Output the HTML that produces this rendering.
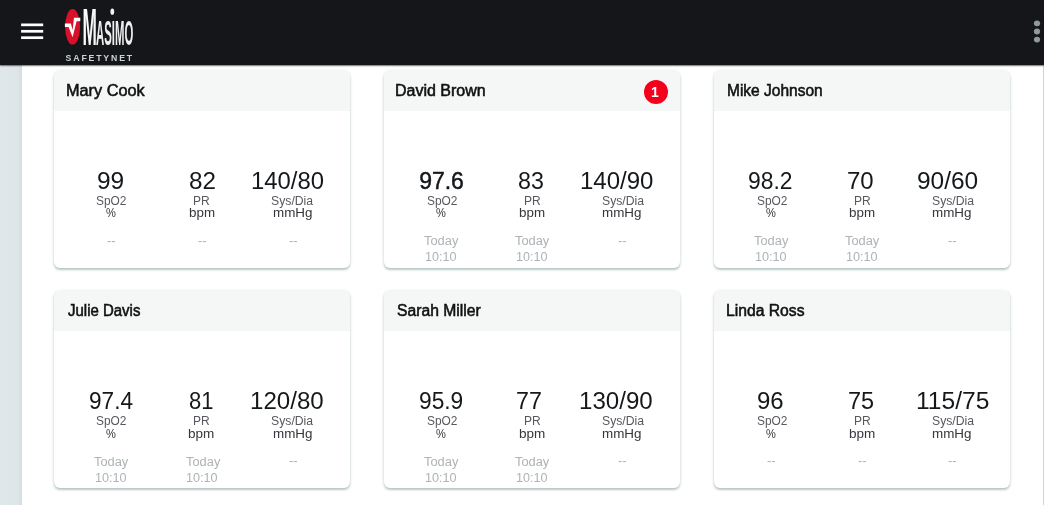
<!DOCTYPE html><html><head><meta charset="utf-8"><title>Masimo SafetyNet</title><style>
*{box-sizing:border-box;margin:0;padding:0}
html,body{width:1044px;height:505px;overflow:hidden;background:#fff;font-family:"Liberation Sans",sans-serif;}
#hdr{position:absolute;left:0;top:0;width:1044px;height:65px;background:#15161a;box-shadow:0 1px 1.2px rgba(0,0,0,.55);z-index:5}
#side{position:absolute;left:0;top:65px;width:21.6px;height:440px;background:linear-gradient(90deg,#e0e7ea 0%,#dee5e8 82%,#d3dcdf 100%)}
#redge{position:absolute;left:1042.8px;top:65px;width:1.2px;height:440px;background:#cbd6d4}
.bar{position:absolute;left:21px;width:22px;height:2.8px;background:#fff;border-radius:.5px}
.dot{position:absolute;left:1034px;width:6px;height:6px;border-radius:50%;background:#8e9b9c}
.card{position:absolute;width:296px;height:197px;background:#fff;border-radius:6px;box-shadow:0 1.2px 2.2px rgba(100,130,130,.42),0 0 3px rgba(110,140,140,.17)}
.ch{position:absolute;left:0;top:0;width:100%;height:40px;background:#f5f7f7;border-radius:6px 6px 0 0}
.badge{position:absolute;left:259.8px;top:9px;width:24px;height:24px;border-radius:50%;background:#f4001c;color:#fff;font-weight:bold;font-size:14px;line-height:24.4px;text-align:center;padding-right:2px}
.tx{position:absolute;display:block;white-space:nowrap;transform-origin:0 0;line-height:1}
.nm{font-size:15.6px;color:#111;-webkit-text-stroke:.55px #111}
.v{font-size:23px;color:#14181a}
.v.b{-webkit-text-stroke:.45px #14181a}
.l{font-size:12px;color:#57575e}
.u{font-size:12px;color:#36363c}
.t{font-size:12px;color:#adb3b6}
.d{font-size:12px;color:#adb3b6}
</style></head><body>
<div id="side"></div><div id="redge"></div>
<div id="hdr">
<svg style="position:absolute;left:0;top:0" width="60" height="65" viewBox="0 0 60 65"><rect x="21.1" y="23.5" width="22.1" height="2.7" fill="#fff"/><rect x="21.1" y="29.95" width="22.1" height="2.7" fill="#fff"/><rect x="21.1" y="36.35" width="22.1" height="2.7" fill="#fff"/></svg>
<svg style="position:absolute;left:1024px;top:0" width="20" height="65" viewBox="1024 0 20 65"><ellipse cx="1037" cy="23.3" rx="3.1" ry="2.9" fill="#8e9b9c"/><ellipse cx="1037" cy="31.5" rx="3.1" ry="2.9" fill="#8e9b9c"/><ellipse cx="1037" cy="39.6" rx="3.1" ry="2.9" fill="#8e9b9c"/></svg>
<svg id="logo" style="position:absolute;left:60px;top:0" width="90" height="65" viewBox="60 0 90 65">
<defs><linearGradient id="mg" x1="0" x2="1" y1="0" y2="0"><stop offset="0" stop-color="#fff"/><stop offset=".55" stop-color="#e4e6e6"/><stop offset="1" stop-color="#f6f7f7"/></linearGradient></defs>
<ellipse cx="72.6" cy="26.8" rx="7.5" ry="17.8" fill="#d8102a"/>
<path d="M64.9 23.6 L70.9 23.6 L72.6 30 L74 17.8 L80.3 17.8 L80.3 21.2 L76.6 21.2 L72.6 37.2 L68.6 27 L64.9 27 Z" fill="#fff"/>
<text x="82.4" y="44.5" font-family="Liberation Sans, sans-serif" font-weight="bold" fill="#eef0f0"><tspan font-size="52.2" textLength="14.4" lengthAdjust="spacingAndGlyphs" fill="url(#mg)">M</tspan><tspan x="96.1" font-size="35.4" textLength="37.2" lengthAdjust="spacingAndGlyphs">ASIMO</tspan></text>
<ellipse cx="112.3" cy="11.7" rx="1.9" ry="3.1" fill="#f2f3f3"/>
<text transform="translate(65.6 60.5) scale(.88 1)" font-family="Liberation Sans, sans-serif" font-weight="bold" font-size="9.9" textLength="75.6" lengthAdjust="spacing" fill="#ccd3d4">SAFETYNET</text>
</svg>

</div>
<div class="card" style="left:54px;top:71px"><div class="ch"></div>
<span class="tx nm" id="n0" style="left:11.87px;top:12.19px;transform:scaleX(1.0435)">Mary Cook</span>
<span class="tx v" id="v00" style="left:43.26px;top:98.88px;transform:scaleX(1.0639)">99</span>
<span class="tx l" id="l00" style="left:41.97px;top:123.74px;transform:scaleX(0.9916)">SpO2</span>
<span class="tx u" id="u00" style="left:52.15px;top:135.94px;transform:scaleX(0.9257)">%</span>
<span class="tx d" id="d00" style="left:52.88px;top:163.54px;transform:scaleX(1.0721)">--</span>
<span class="tx v" id="v01" style="left:135.26px;top:98.88px;transform:scaleX(1.0539)">82</span>
<span class="tx l" id="l01" style="left:139.35px;top:123.74px;transform:scaleX(1.0002)">PR</span>
<span class="tx u" id="u01" style="left:135.48px;top:135.94px;transform:scaleX(1.1149)">bpm</span>
<span class="tx d" id="d01" style="left:144.29px;top:163.54px;transform:scaleX(1.0761)">--</span>
<span class="tx v" id="v02" style="left:197.21px;top:98.88px;transform:scaleX(1.0368)">140/80</span>
<span class="tx l" id="l02" style="left:217.19px;top:123.74px;transform:scaleX(1.0186)">Sys/Dia</span>
<span class="tx u" id="u02" style="left:219.13px;top:135.94px;transform:scaleX(1.1186)">mmHg</span>
<span class="tx d" id="d02" style="left:234.76px;top:163.54px;transform:scaleX(1.0761)">--</span>
</div>
<div class="card" style="left:384px;top:71px"><div class="ch"></div>
<span class="tx nm" id="n1" style="left:10.61px;top:12.19px;transform:scaleX(1.0262)">David Brown</span>
<div class="badge">1</div>
<span class="tx v b" id="v10" style="left:35.15px;top:98.88px">97.6</span>
<span class="tx l" id="l10" style="left:42.50px;top:123.74px;transform:scaleX(0.9916)">SpO2</span>
<span class="tx u" id="u10" style="left:52.47px;top:135.94px;transform:scaleX(0.9231)">%</span>
<span class="tx t" id="t10" style="left:40.44px;top:163.84px;transform:scaleX(1.0715)">Today</span>
<span class="tx t" id="s10" style="left:41.01px;top:180.14px;transform:scaleX(1.0523)">10:10</span>
<span class="tx v" id="v11" style="left:134.37px;top:98.88px;transform:scaleX(1.0106)">83</span>
<span class="tx l" id="l11" style="left:139.92px;top:123.74px;transform:scaleX(1.0002)">PR</span>
<span class="tx u" id="u11" style="left:135.04px;top:135.94px;transform:scaleX(1.1149)">bpm</span>
<span class="tx t" id="t11" style="left:131.12px;top:163.84px;transform:scaleX(1.0709)">Today</span>
<span class="tx t" id="s11" style="left:132.41px;top:180.14px;transform:scaleX(1.0523)">10:10</span>
<span class="tx v" id="v12" style="left:195.91px;top:98.88px;transform:scaleX(1.0446)">140/90</span>
<span class="tx l" id="l12" style="left:217.74px;top:123.74px;transform:scaleX(1.0184)">Sys/Dia</span>
<span class="tx u" id="u12" style="left:218.41px;top:135.94px;transform:scaleX(1.1186)">mmHg</span>
<span class="tx d" id="d12" style="left:234.33px;top:163.54px;transform:scaleX(1.0721)">--</span>
</div>
<div class="card" style="left:714px;top:71px"><div class="ch"></div>
<span class="tx nm" id="n2" style="left:12.90px;top:12.19px;transform:scaleX(0.9946)">Mike Johnson</span>
<span class="tx v" id="v20" style="left:34.40px;top:98.88px;transform:scaleX(0.9943)">98.2</span>
<span class="tx l" id="l20" style="left:42.50px;top:123.74px;transform:scaleX(0.9916)">SpO2</span>
<span class="tx u" id="u20" style="left:52.45px;top:135.94px;transform:scaleX(0.9231)">%</span>
<span class="tx t" id="t20" style="left:40.44px;top:163.84px;transform:scaleX(1.0715)">Today</span>
<span class="tx t" id="s20" style="left:41.01px;top:180.14px;transform:scaleX(1.0523)">10:10</span>
<span class="tx v" id="v21" style="left:132.73px;top:98.88px;transform:scaleX(1.0427)">70</span>
<span class="tx l" id="l21" style="left:139.92px;top:123.74px;transform:scaleX(1.0002)">PR</span>
<span class="tx u" id="u21" style="left:135.04px;top:135.94px;transform:scaleX(1.1149)">bpm</span>
<span class="tx t" id="t21" style="left:131.12px;top:163.84px;transform:scaleX(1.0709)">Today</span>
<span class="tx t" id="s21" style="left:132.41px;top:180.14px;transform:scaleX(1.0523)">10:10</span>
<span class="tx v" id="v22" style="left:202.72px;top:98.88px;transform:scaleX(1.0631)">90/60</span>
<span class="tx l" id="l22" style="left:217.74px;top:123.74px;transform:scaleX(1.0184)">Sys/Dia</span>
<span class="tx u" id="u22" style="left:218.41px;top:135.94px;transform:scaleX(1.1186)">mmHg</span>
<span class="tx d" id="d22" style="left:234.33px;top:163.54px;transform:scaleX(1.0721)">--</span>
</div>
<div class="card" style="left:54px;top:291px"><div class="ch"></div>
<span class="tx nm" id="n3" style="left:14.39px;top:12.09px;transform:scaleX(0.9599)">Julie Davis</span>
<span class="tx v" id="v30" style="left:34.78px;top:99.48px;transform:scaleX(0.9825)">97.4</span>
<span class="tx l" id="l30" style="left:41.97px;top:124.34px;transform:scaleX(0.9916)">SpO2</span>
<span class="tx u" id="u30" style="left:52.15px;top:136.54px;transform:scaleX(0.9257)">%</span>
<span class="tx t" id="t30" style="left:40.16px;top:165.14px;transform:scaleX(1.0709)">Today</span>
<span class="tx t" id="s30" style="left:41.46px;top:180.74px;transform:scaleX(1.0523)">10:10</span>
<span class="tx v" id="v31" style="left:135.37px;top:99.48px;transform:scaleX(0.9569)">81</span>
<span class="tx l" id="l31" style="left:139.38px;top:124.34px;transform:scaleX(1.0002)">PR</span>
<span class="tx u" id="u31" style="left:134.47px;top:136.54px;transform:scaleX(1.1265)">bpm</span>
<span class="tx t" id="t31" style="left:131.56px;top:165.14px;transform:scaleX(1.0715)">Today</span>
<span class="tx t" id="s31" style="left:131.86px;top:180.74px;transform:scaleX(1.0527)">10:10</span>
<span class="tx v" id="v32" style="left:195.68px;top:99.48px;transform:scaleX(1.0480)">120/80</span>
<span class="tx l" id="l32" style="left:217.19px;top:124.34px;transform:scaleX(1.0186)">Sys/Dia</span>
<span class="tx u" id="u32" style="left:219.13px;top:136.54px;transform:scaleX(1.1186)">mmHg</span>
<span class="tx d" id="d32" style="left:234.76px;top:164.14px;transform:scaleX(1.0761)">--</span>
</div>
<div class="card" style="left:384px;top:291px"><div class="ch"></div>
<span class="tx nm" id="n4" style="left:12.90px;top:12.09px;transform:scaleX(1.0060)">Sarah Miller</span>
<span class="tx v" id="v40" style="left:34.72px;top:99.48px;transform:scaleX(0.9881)">95.9</span>
<span class="tx l" id="l40" style="left:42.50px;top:124.34px;transform:scaleX(0.9916)">SpO2</span>
<span class="tx u" id="u40" style="left:52.47px;top:136.54px;transform:scaleX(0.9231)">%</span>
<span class="tx t" id="t40" style="left:40.44px;top:165.14px;transform:scaleX(1.0715)">Today</span>
<span class="tx t" id="s40" style="left:41.01px;top:180.74px;transform:scaleX(1.0523)">10:10</span>
<span class="tx v" id="v41" style="left:132.24px;top:99.48px;transform:scaleX(1.0108)">77</span>
<span class="tx l" id="l41" style="left:139.93px;top:124.34px;transform:scaleX(1.0002)">PR</span>
<span class="tx u" id="u41" style="left:135.01px;top:136.54px;transform:scaleX(1.1265)">bpm</span>
<span class="tx t" id="t41" style="left:131.12px;top:165.14px;transform:scaleX(1.0709)">Today</span>
<span class="tx t" id="s41" style="left:132.41px;top:180.74px;transform:scaleX(1.0523)">10:10</span>
<span class="tx v" id="v42" style="left:195.36px;top:99.48px;transform:scaleX(1.0482)">130/90</span>
<span class="tx l" id="l42" style="left:217.74px;top:124.34px;transform:scaleX(1.0184)">Sys/Dia</span>
<span class="tx u" id="u42" style="left:218.41px;top:136.54px;transform:scaleX(1.1186)">mmHg</span>
<span class="tx d" id="d42" style="left:234.33px;top:164.14px;transform:scaleX(1.0721)">--</span>
</div>
<div class="card" style="left:714px;top:291px"><div class="ch"></div>
<span class="tx nm" id="n5" style="left:11.87px;top:12.09px;transform:scaleX(1.0064)">Linda Ross</span>
<span class="tx v" id="v50" style="left:42.78px;top:99.48px;transform:scaleX(1.0425)">96</span>
<span class="tx l" id="l50" style="left:42.50px;top:124.34px;transform:scaleX(0.9916)">SpO2</span>
<span class="tx u" id="u50" style="left:52.45px;top:136.54px;transform:scaleX(0.9231)">%</span>
<span class="tx d" id="d50" style="left:53.17px;top:164.14px;transform:scaleX(1.0761)">--</span>
<span class="tx v" id="v51" style="left:134.23px;top:99.48px;transform:scaleX(1.0212)">75</span>
<span class="tx l" id="l51" style="left:139.93px;top:124.34px;transform:scaleX(1.0002)">PR</span>
<span class="tx u" id="u51" style="left:135.01px;top:136.54px;transform:scaleX(1.1265)">bpm</span>
<span class="tx d" id="d51" style="left:143.84px;top:164.14px;transform:scaleX(1.0721)">--</span>
<span class="tx v" id="v52" style="left:202.38px;top:99.48px;transform:scaleX(1.0685)">115/75</span>
<span class="tx l" id="l52" style="left:217.74px;top:124.34px;transform:scaleX(1.0184)">Sys/Dia</span>
<span class="tx u" id="u52" style="left:218.41px;top:136.54px;transform:scaleX(1.1186)">mmHg</span>
<span class="tx d" id="d52" style="left:234.33px;top:164.14px;transform:scaleX(1.0721)">--</span>
</div>
</body></html>
